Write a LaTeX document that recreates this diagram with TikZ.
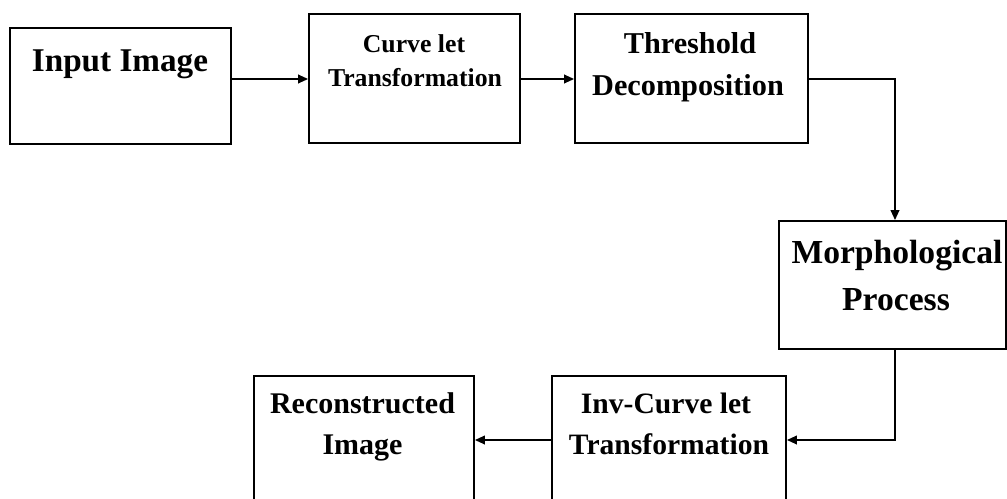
\documentclass[tikz,border=0pt]{standalone}
\usepackage{fontspec}
\setmainfont{Liberation Serif}
\usetikzlibrary{arrows.meta,calc}
\begin{document}
\begin{tikzpicture}[x=0.75pt,y=-0.75pt,
  box/.style={draw=black,line width=1.4pt,rectangle,inner sep=0pt,fill=white},
  lbl/.style={anchor=base,inner sep=0pt,text=black,font=\bfseries},
  arr/.style={draw=black,line width=1.3pt,-{Triangle[length=7.5pt,width=6.5pt]}}]
\useasboundingbox (0,0) rectangle (1007,499);
\clip (0,0) rectangle (1007,499);
\fill[white] (0,0) rectangle (1007,499);
% boxes
\node[box,minimum width=221*0.75pt,minimum height=116*0.75pt] (b1) at (120.5,86) {};
\node[box,minimum width=211*0.75pt,minimum height=129*0.75pt] (b2) at (414.5,78.5) {};
\node[box,minimum width=233*0.75pt,minimum height=129*0.75pt] (b3) at (691.5,78.5) {};
\node[box,minimum width=227*0.75pt,minimum height=128*0.75pt] (b4) at (892.5,285) {};
\node[box,minimum width=234*0.75pt,minimum height=129*0.75pt] (b5) at (669,440.5) {};
\node[box,minimum width=220*0.75pt,minimum height=129*0.75pt] (b6) at (364,440.5) {};
% texts
\node[lbl,font=\bfseries\fontsize{24.9pt}{28pt}\selectfont] (t1) at (120,72) {Input Image};
\node[lbl,font=\bfseries\fontsize{19.3pt}{22pt}\selectfont] (t2a) at (414,53) {Curve let};
\node[lbl,font=\bfseries\fontsize{19.3pt}{22pt}\selectfont] (t2b) at (415,87) {Transformation};
\node[lbl,font=\bfseries\fontsize{22.7pt}{26pt}\selectfont] (t3a) at (690,54) {Threshold};
\node[lbl,font=\bfseries\fontsize{22.7pt}{26pt}\selectfont] (t3b) at (688,96) {Decomposition};
\node[lbl,font=\bfseries\fontsize{25.2pt}{29pt}\selectfont] (t4a) at (897,263) {Morphological};
\node[lbl,font=\bfseries\fontsize{25.2pt}{29pt}\selectfont] (t4b) at (896,310) {Process};
\node[lbl,font=\bfseries\fontsize{22.2pt}{26pt}\selectfont] (t5a) at (666,413) {Inv-Curve let};
\node[lbl,font=\bfseries\fontsize{22.2pt}{26pt}\selectfont] (t5b) at (669,454) {Transformation};
\node[lbl,font=\bfseries\fontsize{22.5pt}{26pt}\selectfont] (t6a) at (362.5,413) {Reconstructed};
\node[lbl,font=\bfseries\fontsize{22.5pt}{26pt}\selectfont] (t6b) at (362.5,454) {Image};
% helper coordinates
\coordinate (r1) at (0,79);
\coordinate (cx) at (895,0);
\coordinate (r2) at (0,440);
% connectors
\draw[arr] (b1.east |- r1) -- (b2.west |- r1);
\draw[arr] (b2.east |- r1) -- (b3.west |- r1);
\draw[arr] (b3.east |- r1) -| (b4.north -| cx);
\draw[arr] (b4.south -| cx) |- (b5.east |- r2);
\draw[arr] (b5.west |- r2) -- (b6.east |- r2);
\end{tikzpicture}
\end{document}
